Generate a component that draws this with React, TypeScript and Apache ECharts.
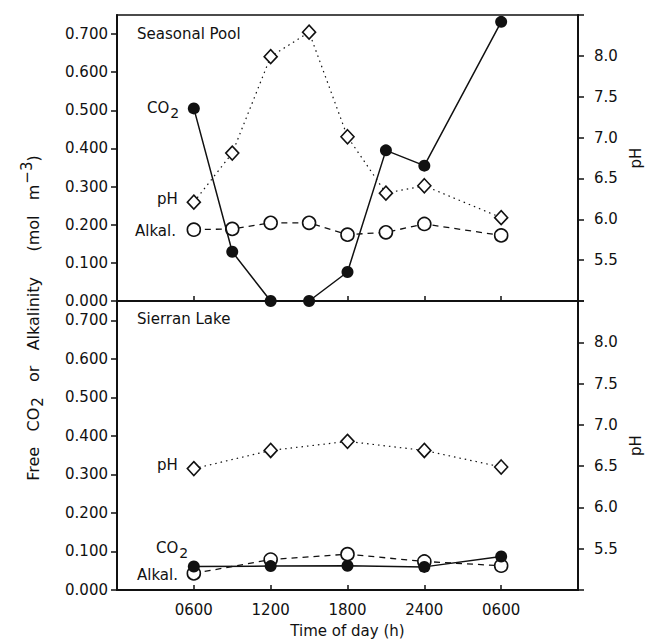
import React, { useEffect, useRef } from "react";
import * as echarts from "echarts";

// Seasonal Pool (top panel) — sampling times in hours from 0000 of day 1
const poolHours = [6, 9, 12, 15, 18, 21, 24, 30];
const poolCO2 = [0.505, 0.129, 0.0, 0.0, 0.076, 0.395, 0.355, 0.732];
const poolPH = [6.21, 6.81, 7.99, 8.29, 7.01, 6.32, 6.41, 6.02];
const poolAlk = [0.187, 0.189, 0.205, 0.205, 0.174, 0.18, 0.202, 0.172];

// Sierran Lake (bottom panel)
const lakeHours = [6, 12, 18, 24, 30];
const lakeCO2 = [0.061, 0.062, 0.063, 0.06, 0.087];
const lakePH = [6.47, 6.69, 6.8, 6.69, 6.49];
const lakeAlk = [0.043, 0.079, 0.093, 0.074, 0.063];

// Axis ticks / labels
const xTickValues = [6, 12, 18, 24, 30];
const xTickLabels = ["0600", "1200", "1800", "2400", "0600"];
const concTicks = [0, 0.1, 0.2, 0.3, 0.4, 0.5, 0.6, 0.7];
const phTicks = [5.0, 5.5, 6.0, 6.5, 7.0, 7.5, 8.0, 8.5];
const phLabelTicks = [5.5, 6.0, 6.5, 7.0, 7.5, 8.0];

const FONT = "DejaVu Sans";
const INK = "#111";

const pairs = (xs: number[], ys: number[]) => xs.map((x, i) => [x, ys[i]]);

export default function App() {
  const ref = useRef<HTMLDivElement>(null);

  useEffect(() => {
    if (!ref.current) return;
    const chart = echarts.init(ref.current, undefined, { renderer: "svg" });

    const grids = [
      { left: 117, top: 15, width: 461, height: 286 },
      { left: 117, top: 301, width: 461, height: 289 },
    ];

    const xAxisBase = (gi: number) => ({
      gridIndex: gi,
      type: "value",
      min: 0,
      max: 36,
      interval: 6,
      splitLine: { show: false },
      axisLine: { lineStyle: { color: INK, width: 2 } },
      axisTick: { inside: true, length: 5, lineStyle: { color: INK, width: 1.5 }, customValues: xTickValues },
      axisLabel: {
        show: gi === 1,
        customValues: xTickValues,
        formatter: (v: number) => {
          const i = xTickValues.indexOf(v);
          return i >= 0 ? xTickLabels[i] : "";
        },
        color: INK,
        fontFamily: FONT,
        fontSize: 15,
        margin: 12,
      },
    });

    const concAxis = (gi: number) => ({
      gridIndex: gi,
      type: "value",
      position: "left",
      min: 0,
      max: 0.75,
      splitLine: { show: false },
      axisLine: { show: true, lineStyle: { color: INK, width: 2 } },
      axisTick: { show: true, length: 6, lineStyle: { color: INK, width: 1.5 }, customValues: concTicks },
      axisLabel: {
        customValues: concTicks,
        formatter: (v: number) => v.toFixed(3),
        color: INK,
        fontFamily: FONT,
        fontSize: 15,
        margin: 9,
      },
    });

    const phAxis = (gi: number) => ({
      gridIndex: gi,
      type: "value",
      position: "right",
      min: 5.0,
      max: 8.5,
      interval: 0.5,
      splitLine: { show: false },
      axisLine: { show: true, lineStyle: { color: INK, width: 2 } },
      axisTick: { show: true, length: 6, lineStyle: { color: INK, width: 1.5 }, customValues: phTicks },
      axisLabel: {
        customValues: phLabelTicks,
        formatter: (v: number) => v.toFixed(1),
        color: INK,
        fontFamily: FONT,
        fontSize: 15,
        margin: 16,
      },
      name: "pH",
      nameLocation: "middle",
      nameRotate: 90,
      nameGap: 48,
      nameTextStyle: { color: INK, fontFamily: FONT, fontSize: 15 },
    });

    const co2Series = (gi: number, xs: number[], ys: number[]) => ({
      type: "line",
      xAxisIndex: gi,
      yAxisIndex: gi * 2,
      data: pairs(xs, ys),
      symbol: "circle",
      symbolSize: 12,
      itemStyle: { color: INK },
      lineStyle: { color: INK, width: 1.5 },
      z: 5,
    });
    const phSeries = (gi: number, xs: number[], ys: number[]) => ({
      type: "line",
      xAxisIndex: gi,
      yAxisIndex: gi * 2 + 1,
      data: pairs(xs, ys),
      symbol: "diamond",
      symbolSize: [13, 14],
      itemStyle: { color: "#fff", borderColor: INK, borderWidth: 1.6 },
      lineStyle: { color: INK, width: 1.2, type: [1.5, 4] },
      z: 3,
    });
    const alkSeries = (gi: number, xs: number[], ys: number[]) => ({
      type: "line",
      xAxisIndex: gi,
      yAxisIndex: gi * 2,
      data: pairs(xs, ys),
      symbol: "circle",
      symbolSize: 13,
      itemStyle: { color: "#fff", borderColor: INK, borderWidth: 1.6 },
      lineStyle: { color: INK, width: 1.3, type: [6, 5] },
      z: 4,
    });

    const txt = (x: number, y: number, text: string, rich?: any, align = "left") => ({
      type: "text",
      x,
      y,
      silent: true,
      style: {
        text,
        fill: INK,
        fontFamily: FONT,
        fontSize: 15,
        align,
        verticalAlign: "middle",
        rich,
      },
    });

    const subRich = {
      a: { fontFamily: FONT, fontSize: 15, color: INK },
      s: { fontFamily: FONT, fontSize: 14, color: INK, padding: [10, 0, 0, 1] },
    };

    const option: any = {
      animation: false,
      backgroundColor: "#fff",
      grid: grids.map((g) => ({
        ...g,
        show: true,
        borderColor: INK,
        borderWidth: 1.5,
        backgroundColor: "transparent",
        outerBoundsMode: "none",
        containLabel: false,
      })),
      xAxis: [
        xAxisBase(0),
        {
          ...xAxisBase(1),
          name: "Time of day (h)",
          nameLocation: "middle",
          nameGap: 33,
          nameTextStyle: { color: INK, fontFamily: FONT, fontSize: 15 },
        },
      ],
      yAxis: [concAxis(0), phAxis(0), concAxis(1), phAxis(1)],
      series: [
        phSeries(0, poolHours, poolPH),
        alkSeries(0, poolHours, poolAlk),
        co2Series(0, poolHours, poolCO2),
        phSeries(1, lakeHours, lakePH),
        alkSeries(1, lakeHours, lakeAlk),
        co2Series(1, lakeHours, lakeCO2),
      ],
      graphic: [
        txt(137, 34, "Seasonal Pool"),
        txt(137, 319, "Sierran Lake"),
        // top panel annotations
        txt(147, 108, "{a|CO}{s|2}", subRich),
        txt(157, 199, "pH"),
        txt(135, 231, "Alkal."),
        // bottom panel annotations
        txt(157, 465, "pH"),
        txt(156, 548, "{a|CO}{s|2}", subRich),
        txt(137, 575, "Alkal."),
        // left axis title
        {
          type: "text",
          x: 33,
          y: 318,
          rotation: Math.PI / 2,
          silent: true,
          style: {
            text: "{a|Free   CO}{s|2}{a|   or   Alkalinity     (mol   m}{p|−3}{a|)}",
            fill: INK,
            align: "center",
            verticalAlign: "middle",
            rich: {
              a: { fontFamily: FONT, fontSize: 16, color: INK },
              s: { fontFamily: FONT, fontSize: 15, color: INK, padding: [10, 0, 0, 1] },
              p: { fontFamily: FONT, fontSize: 15, color: INK, padding: [0, 0, 12, 1] },
            },
          },
        },
      ],
    };

    chart.setOption(option);
    return () => chart.dispose();
  }, []);

  return (
    <div
      ref={ref}
      style={{ position: "fixed", left: 0, top: 0, width: 645, height: 639, background: "#fff" }}
    />
  );
}
